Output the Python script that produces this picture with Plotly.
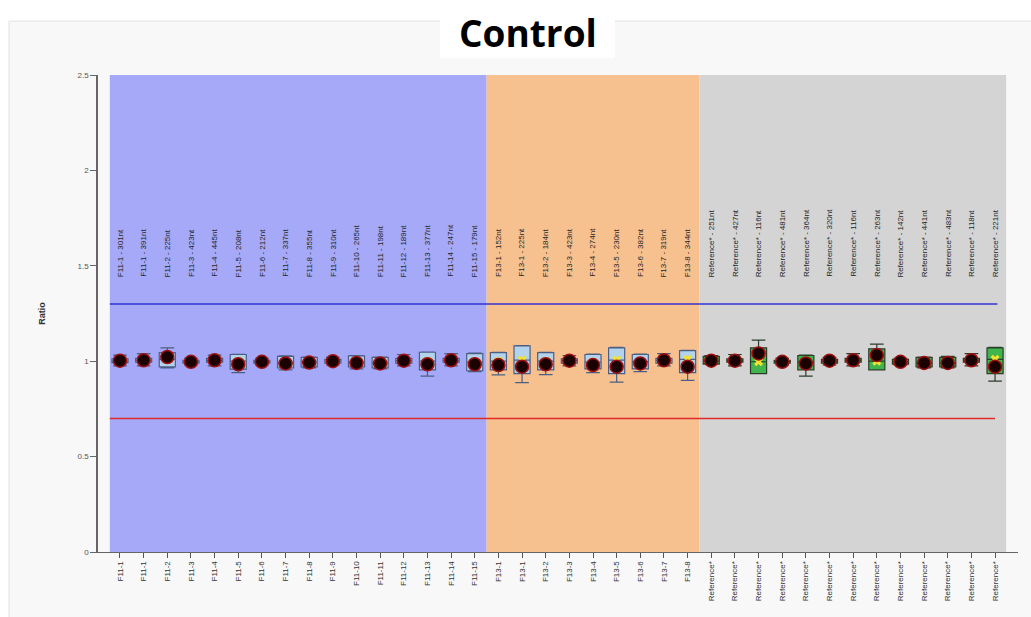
import plotly.graph_objects as go

# ---- data ----
tick_labels = (
    ["F11-1", "F11-1", "F11-2", "F11-3", "F11-4", "F11-5", "F11-6", "F11-7",
     "F11-8", "F11-9", "F11-10", "F11-11", "F11-12", "F11-13", "F11-14", "F11-15"]
    + ["F13-1", "F13-1", "F13-2", "F13-3", "F13-4", "F13-5", "F13-6", "F13-7", "F13-8"]
    + ["Reference*"] * 13
)
fragment_sizes = [
    "301nt", "391nt", "225nt", "423nt", "445nt", "208nt", "212nt", "337nt",
    "355nt", "310nt", "265nt", "198nt", "189nt", "377nt", "247nt", "179nt",
    "152nt", "225nt", "184nt", "423nt", "274nt", "230nt", "382nt", "319nt", "344nt",
    "251nt", "427nt", "116nt", "481nt", "364nt", "320nt", "116nt", "263nt",
    "142nt", "441nt", "483nt", "118nt", "221nt",
]
group_sizes = [16, 9, 13]          # F11, F13, Reference
group_colors = ["#a5a9f7", "#f6c08f", "#d4d4d4"]

lower = [0.975, 0.975, 0.965, 0.98, 0.975, 0.94, 0.98, 0.955, 0.965, 0.98, 0.96, 0.96, 0.975, 0.922, 0.975, 0.945,
         0.928, 0.888, 0.93, 0.975, 0.94, 0.89, 0.945, 0.975, 0.90,
         0.985, 0.975, 0.935, 0.98, 0.922, 0.98, 0.975, 0.955, 0.98, 0.965, 0.965, 0.975, 0.896]
q1 = [0.993, 0.995, 0.97, 0.99, 0.995, 0.958, 0.99, 0.965, 0.97, 0.99, 0.97, 0.965, 0.99, 0.955, 0.995, 0.95,
      0.955, 0.935, 0.955, 0.99, 0.96, 0.935, 0.96, 0.99, 0.94,
      0.985, 0.995, 0.935, 0.99, 0.955, 0.99, 0.995, 0.955, 0.985, 0.97, 0.97, 0.995, 0.935]
median = [1.0, 1.005, 1.01, 0.998, 1.005, 1.0, 0.998, 0.99, 0.995, 1.0, 0.995, 0.99, 1.003, 1.0, 1.005, 0.995,
          1.0, 1.006, 1.0, 1.003, 0.995, 1.006, 0.998, 1.005, 1.01,
          1.0, 1.003, 0.997, 0.998, 0.995, 1.0, 1.005, 1.0, 0.998, 0.99, 0.99, 1.005, 1.01]
q3 = [1.012, 1.015, 1.045, 1.005, 1.015, 1.035, 1.005, 1.025, 1.02, 1.01, 1.028, 1.02, 1.015, 1.047, 1.015, 1.04,
      1.045, 1.08, 1.045, 1.012, 1.035, 1.07, 1.035, 1.015, 1.055,
      1.025, 1.012, 1.07, 1.005, 1.03, 1.01, 1.015, 1.065, 1.01, 1.02, 1.02, 1.015, 1.07]
upper = [1.032, 1.04, 1.07, 1.015, 1.032, 1.036, 1.015, 1.028, 1.022, 1.02, 1.03, 1.022, 1.035, 1.048, 1.04, 1.042,
         1.047, 1.082, 1.047, 1.03, 1.037, 1.072, 1.037, 1.04, 1.057,
         1.03, 1.035, 1.11, 1.015, 1.032, 1.02, 1.04, 1.09, 1.015, 1.022, 1.025, 1.04, 1.072]
mean = [1.003, 1.005, 1.022, 0.997, 1.005, 0.984, 0.997, 0.988, 0.993, 1.0, 0.991, 0.988, 1.003, 0.984, 1.005, 0.984,
        0.98, 0.971, 0.984, 1.003, 0.98, 0.971, 0.988, 1.005, 0.971,
        1.003, 1.003, 1.041, 0.997, 0.988, 1.003, 1.005, 1.032, 0.997, 0.991, 0.991, 1.005, 0.971]

upper_limit = 1.3
lower_limit = 0.7

# ---- figure ----
n = len(tick_labels)
xs = list(range(n))
inner_labels = [f"{p} - {s}" for p, s in zip(tick_labels, fragment_sizes)]

fig = go.Figure()

# box groups: F11 + F13 in light blue, Reference in green
n_blue = group_sizes[0] + group_sizes[1]
box_styles = [
    (slice(0, n_blue), "#b3d3ec", "#4b5f85"),
    (slice(n_blue, n), "#3fb54b", "#2b3d2b"),
]
for sl, fill, line in box_styles:
    fig.add_trace(go.Box(
        x=xs[sl], q1=q1[sl], median=median[sl], q3=q3[sl],
        lowerfence=lower[sl], upperfence=upper[sl],
        fillcolor=fill, line=dict(color=line, width=1.2),
        width=0.68, whiskerwidth=0.85, boxpoints=False, showlegend=False,
        hoverinfo="skip",
    ))

fig.add_trace(go.Scatter(
    x=xs, y=median, mode="markers", showlegend=False,
    marker=dict(symbol="x", size=8, color="#f2e22e", line=dict(width=0)),
))
fig.add_trace(go.Scatter(
    x=xs, y=mean, mode="markers", showlegend=False,
    marker=dict(symbol="circle", size=13, color="#1a0202",
                line=dict(color="#9e1010", width=1.5)),
))

# colored background regions
start = 0
for k, (size, col) in enumerate(zip(group_sizes, group_colors)):
    x0 = start - 0.5 if k > 0 else -0.43
    x1 = start + size - 0.5 if k < len(group_sizes) - 1 else start + size - 0.53
    fig.add_shape(type="rect", xref="x", yref="y", x0=x0, x1=x1, y0=0, y1=2.5,
                  fillcolor=col, line=dict(width=0), layer="below")
    start += size

# threshold lines
fig.add_shape(type="line", xref="x", yref="y", x0=-0.43, x1=37.1,
              y0=upper_limit, y1=upper_limit, line=dict(color="#3535cf", width=1.6))
fig.add_shape(type="line", xref="x", yref="y", x0=-0.43, x1=37.0,
              y0=lower_limit, y1=lower_limit, line=dict(color="#e02a2a", width=1.6))

# outer frame and title box (paper coords)
L, R, T, B = 98, 13, 75, 65
W, H = 1031, 617
pw, ph = W - L - R, H - T - B
def px_x(p):
    return (p - L) / pw
def px_y(p):
    return (H - B - p) / ph
fig.add_shape(type="rect", xref="paper", yref="paper",
              x0=px_x(9), x1=px_x(1040), y0=px_y(21), y1=px_y(625),
              fillcolor="#f8f8f8", line=dict(color="#e2e2e2", width=1), layer="below")
fig.add_shape(type="rect", xref="paper", yref="paper",
              x0=px_x(440), x1=px_x(615), y0=px_y(0), y1=px_y(58),
              fillcolor="white", line=dict(width=0), layer="below")

annotations = [dict(
    text="<b>Control</b>", xref="paper", yref="paper", x=px_x(528), y=px_y(32),
    xanchor="center", yanchor="middle", showarrow=False,
    font=dict(family="Open Sans", size=37, color="#000000"),
)]
for i, t in enumerate(inner_labels):
    annotations.append(dict(
        text=t, x=i, y=1.43, xref="x", yref="y", textangle=-90,
        xanchor="center", yanchor="bottom", showarrow=False,
        font=dict(family="Liberation Sans", size=8, color="#262626"),
    ))

fig.update_layout(
    width=W, height=H,
    margin=dict(l=L, r=R, t=T, b=B),
    paper_bgcolor="white", plot_bgcolor="rgba(0,0,0,0)",
    boxmode="overlay", showlegend=False,
    annotations=annotations,
)
fig.update_xaxes(
    range=[-0.93, 37.97], tickvals=xs, ticktext=tick_labels, tickangle=-90,
    showline=True, linecolor="#666666", linewidth=1, ticks="outside", ticklen=5,
    tickcolor="#555555", showgrid=False, zeroline=False,
    tickfont=dict(family="Liberation Sans", size=8, color="#333333"),
)
fig.update_yaxes(
    range=[0, 2.5], tickvals=[0, 0.5, 1, 1.5, 2, 2.5],
    ticktext=["0", "0.5", "1", "1.5", "2", "2.5"],
    showline=True, linecolor="#666666", linewidth=1.5, ticks="outside", ticklen=6,
    tickcolor="#666666", showgrid=False, zeroline=False,
    tickfont=dict(family="Liberation Sans", size=8, color="#555555"),
    title=dict(text="<b>Ratio</b>", standoff=30,
               font=dict(family="Liberation Sans", size=9, color="#333333")),
)

fig.write_html("out.html")
